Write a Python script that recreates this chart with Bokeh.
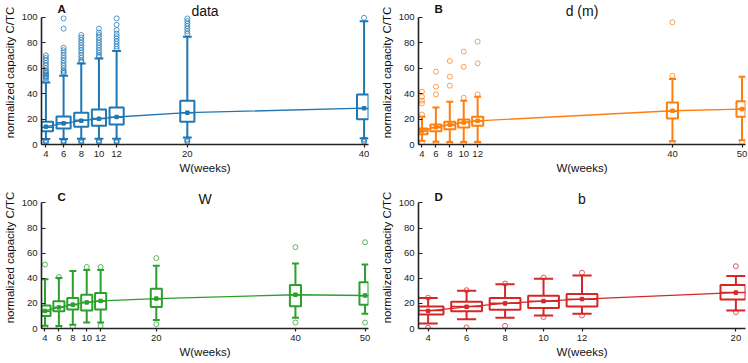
from bokeh.plotting import figure
from bokeh.layouts import gridplot
from bokeh.models import FixedTicker, Label, Range1d
from bokeh.embed import file_html
from bokeh.resources import INLINE

# ---------------- data ----------------
# Panel A: data
a_w = [4, 6, 8, 10, 12, 20, 40]
a_q1 = [10.5, 12.6, 14.0, 14.7, 15.7, 17.8, 19.9]
a_med = [13.6, 17.0, 19.0, 20.4, 21.5, 24.9, 28.3]
a_q3 = [17.8, 22.0, 25.0, 27.5, 29.0, 34.3, 39.3]
a_lo = [4.3, 4.3, 4.5, 4.5, 4.5, 5.5, 5.0]
a_hi = [48.7, 54.0, 63.6, 67.5, 73.5, 84.6, 96.9]
a_mean = [14.0, 16.6, 18.7, 20.2, 21.6, 25.0, 28.5]
a_out = [
    [1.5, 2.5, 3.3, 50, 52, 53, 54, 55, 56, 57, 58, 60, 62, 64, 66, 68, 70],
    [1.5, 2.5, 3.3, 56, 57, 58, 60, 62, 64, 66, 68, 70, 72, 74, 76, 91, 99],
    [1.5, 2.5, 3.3, 65, 66, 68, 70, 72, 74, 76, 78, 80, 82, 84, 86],
    [1.5, 2.5, 3.3, 69, 70, 72, 74, 76, 78, 80, 82, 84, 86, 88, 91],
    [1.5, 2.5, 3.3, 75, 77, 79, 81, 83, 85, 87, 90, 94, 99],
    [2.0, 3.0, 4.0, 87, 89, 91, 93, 95, 97, 99],
    [2.0, 3.0, 4.0, 99.5],
]

# Panel B: d (m)
b_w = [4, 6, 8, 10, 12, 40, 50]
b_q1 = [8.1, 10.5, 12.0, 13.4, 14.7, 20.5, 21.8]
b_med = [10.5, 13.4, 15.2, 17.3, 18.4, 26.2, 27.8]
b_q3 = [12.6, 15.7, 17.8, 19.7, 21.8, 33.0, 34.0]
b_lo = [2.9, 2.1, 2.0, 2.0, 2.0, 2.6, 3.4]
b_hi = [21.8, 29.1, 33.6, 34.4, 37.5, 51.4, 53.3]
b_mean = [10.8, 13.6, 15.5, 17.3, 18.6, 26.5, 27.8]
b_out = [
    [1.2, 23.6, 32.3, 34.4, 37.5, 41.5],
    [1.0, 39.4, 45.4, 57.2],
    [1.0, 46.2, 53.3, 65.6],
    [1.0, 36.7, 61.0, 73.0],
    [1.0, 39.4, 63.8, 80.8],
    [1.5, 54.0, 96.0],
    [2.0],
]

# Panel C: W
c_w = [4, 6, 8, 10, 12, 20, 40, 50]
c_q1 = [9.9, 13.8, 15.1, 14.4, 15.1, 17.2, 17.8, 19.0]
c_med = [13.8, 17.0, 19.0, 20.9, 21.7, 23.5, 26.9, 26.1]
c_q3 = [18.3, 21.7, 24.3, 26.9, 28.2, 31.6, 34.7, 36.8]
c_lo = [2.1, 2.0, 2.9, 4.7, 4.7, 6.8, 8.6, 11.7]
c_hi = [39.2, 40.3, 45.7, 46.5, 46.5, 49.9, 51.7, 50.9]
c_mean = [14.0, 16.8, 19.0, 20.8, 22.0, 23.8, 26.9, 26.3]
c_out = [
    [0.8, 50.9],
    [0.8, 41.0],
    [1.5],
    [49.0],
    [2.0, 49.0],
    [3.4, 56.1],
    [4.7, 64.8],
    [4.7, 68.7],
]

# Panel D: b
d_w = [4, 6, 8, 10, 12, 20]
d_q1 = [11.2, 13.8, 14.9, 16.4, 17.5, 23.0]
d_med = [14.4, 17.5, 20.1, 21.7, 23.2, 28.7]
d_q3 = [17.5, 21.4, 24.3, 26.1, 27.4, 34.7]
d_lo = [3.9, 7.3, 8.6, 10.4, 11.7, 14.4]
d_hi = [24.3, 30.0, 35.2, 39.7, 42.3, 41.8]
d_mean = [14.0, 17.3, 20.0, 21.8, 23.4, 28.6]
d_out = [
    [0.5, 24.5],
    [0.8, 30.5],
    [2.1, 35.8],
    [9.1, 40.5],
    [10.4, 44.4],
    [13.0, 49.6],
]

y_ticks = [0, 20, 40, 60, 80, 100]
FONT = "Liberation Sans"


def panel(letter, title, w, q1, med, q3, lo, hi, mean, outs, color,
          frame_w, frame_h, left_b, right_b, bottom_b, title_y):
    xmax = max(w) + 0.5
    p = figure(output_backend="svg", toolbar_location=None,
               frame_width=frame_w, frame_height=frame_h,
               x_range=Range1d(3.5, xmax), y_range=Range1d(0, 113.1),
               min_border_left=left_b, min_border_right=right_b,
               min_border_top=0, min_border_bottom=bottom_b)
    p.outline_line_color = None
    p.grid.visible = False
    p.background_fill_color = "white"
    p.border_fill_color = "white"

    bw = 1.6
    cw = 1.0
    # whiskers
    p.segment(x0=w, y0=q3, x1=w, y1=hi, line_color=color, line_width=2)
    p.segment(x0=w, y0=lo, x1=w, y1=q1, line_color=color, line_width=2)
    p.segment(x0=[x - cw / 2 for x in w], y0=hi, x1=[x + cw / 2 for x in w], y1=hi,
              line_color=color, line_width=2)
    p.segment(x0=[x - cw / 2 for x in w], y0=lo, x1=[x + cw / 2 for x in w], y1=lo,
              line_color=color, line_width=2)
    # boxes
    p.vbar(x=w, width=bw, bottom=q1, top=q3, fill_color="white", fill_alpha=0.0,
           line_color=color, line_width=2)
    p.segment(x0=[x - bw / 2 for x in w], y0=med, x1=[x + bw / 2 for x in w], y1=med,
              line_color=color, line_width=1.5)
    # outliers
    ox, oy = [], []
    for x, vals in zip(w, outs):
        for v in vals:
            ox.append(x)
            oy.append(v)
    p.scatter(ox, oy, marker="circle", size=5, fill_color=None,
              line_color=color, line_width=1, line_alpha=0.75)
    # mean line and markers
    p.line(w, mean, line_color=color, line_width=1.3)
    p.scatter(w, mean, marker="square", size=3.5, fill_color=color, line_color=color)

    # axes
    p.xaxis.ticker = FixedTicker(ticks=w)
    p.yaxis.ticker = FixedTicker(ticks=y_ticks)
    p.yaxis.bounds = (0, 100)
    p.xaxis.axis_label = "W(weeks)"
    p.yaxis.axis_label = "normalized capacity C/TC"
    for ax in (p.xaxis[0], p.yaxis[0]):
        ax.axis_line_color = "#222222"
        ax.axis_line_width = 1.6
        ax.major_tick_line_color = "#222222"
        ax.major_tick_line_width = 1.2
        ax.minor_tick_line_color = None
        ax.major_label_text_font = FONT
        ax.major_label_text_font_size = "9.5px"
        ax.major_label_text_color = "#222222"
        ax.axis_label_text_font = FONT
        ax.axis_label_text_font_size = "11.5px"
        ax.axis_label_text_font_style = "normal"
        ax.axis_label_text_color = "#111111"
        ax.major_label_standoff = 4
        ax.axis_label_standoff = 3
    p.xaxis.major_tick_in = 0
    p.xaxis.major_tick_out = 3
    p.xaxis.major_label_standoff = 3
    p.xaxis.axis_label_standoff = 2
    p.yaxis.major_tick_in = 4
    p.yaxis.major_tick_out = 0

    p.add_layout(Label(x=frame_w / 2, y=title_y, x_units="screen", y_units="data",
                       text=title, text_align="center", text_baseline="top",
                       text_font=FONT, text_font_size="14px", text_color="#111111"))
    p.add_layout(Label(x=16, y=title_y, x_units="screen", y_units="data",
                       text=letter, text_align="left", text_baseline="top",
                       text_font=FONT, text_font_size="11.5px", text_font_style="bold",
                       text_color="#111111"))
    return p


pA = panel("A", "data", a_w, a_q1, a_med, a_q3, a_lo, a_hi, a_mean, a_out, "#1f77b4",
           327, 144, 39, 9, 42, 111.0)
pB = panel("B", "d (m)", b_w, b_q1, b_med, b_q3, b_lo, b_hi, b_mean, b_out, "#ff7f0e",
           327, 144, 39, 6, 42, 111.0)
pC = panel("C", "W", c_w, c_q1, c_med, c_q3, c_lo, c_hi, c_mean, c_out, "#2ca02c",
           327, 142, 39, 9, 33, 109.5)
pD = panel("D", "b", d_w, d_q1, d_med, d_q3, d_lo, d_hi, d_mean, d_out, "#d62728",
           327, 142, 39, 6, 33, 109.5)

grid = gridplot([[pA, pB], [pC, pD]], toolbar_location=None)

open("out.html", "w").write(file_html(grid, INLINE))
